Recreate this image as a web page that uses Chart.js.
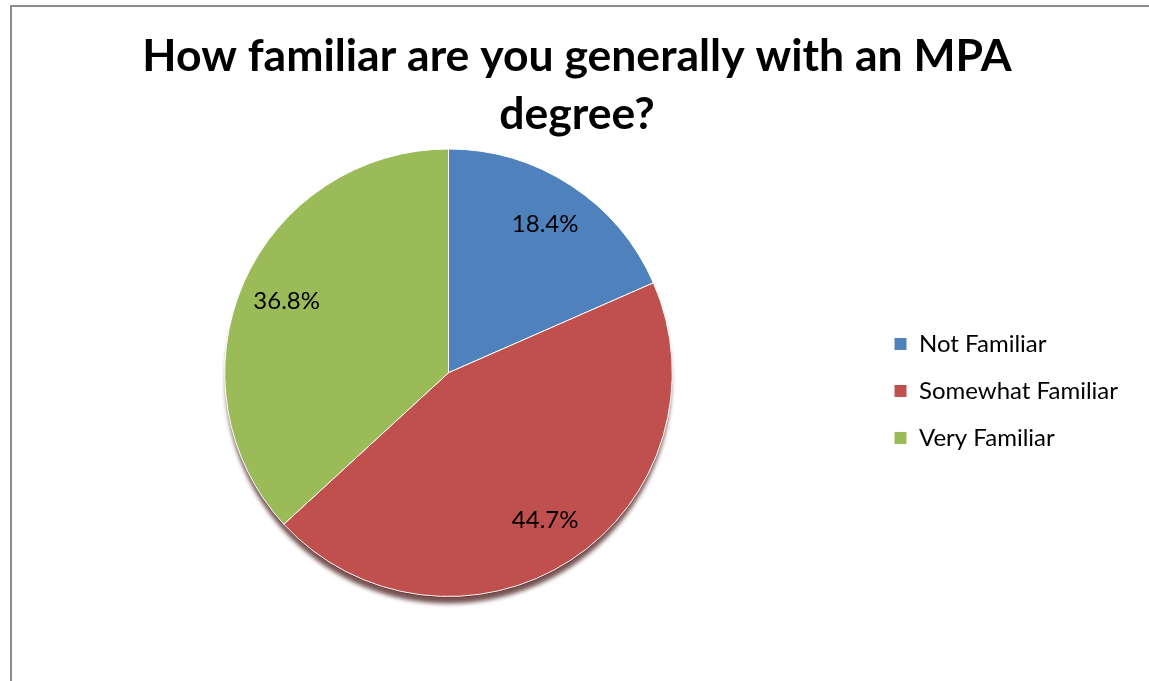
<!DOCTYPE html>
<html>
<head>
<meta charset="utf-8">
<script src="https://cdn.jsdelivr.net/npm/chart.js@4/dist/chart.umd.min.js"></script>
<style>
    html, body { margin: 0; padding: 0; background: #fff; overflow: hidden; }
    #frame { position: absolute; left: 10px; top: 5px; width: 1160px; height: 700px; border: 2px solid #8c8c8c; box-sizing: border-box; }
    #wrap { position: absolute; left: 0; top: 0; width: 1149px; height: 681px; }
</style>
</head>
<body>
<div id="frame"></div>
<div id="wrap"><canvas id="pieChart" width="1149" height="681"></canvas></div>
<script>
const categories = ['Not Familiar', 'Somewhat Familiar', 'Very Familiar'];
const percentages = [18.4, 44.7, 36.8];
const sliceColors = ['#4F81BD', '#C0504D', '#9BBB59'];
const titleLines = ['How familiar are you generally with an MPA', 'degree?'];

// soft shadow under the pie, like the Excel one
const pieShadow = {
    id: 'pieShadow',
    beforeDatasetsDraw(chart) {
        const arc = chart.getDatasetMeta(0).data[0];
        if (!arc) return;
        const ctx = chart.ctx;
        ctx.save();
        ctx.shadowColor = 'rgba(60, 10, 10, 0.7)';
        ctx.shadowBlur = 4;
        ctx.shadowOffsetY = 6;
        ctx.fillStyle = '#6e2220';
        ctx.beginPath();
        ctx.arc(arc.x, arc.y + 2, arc.outerRadius - 1, 0, Math.PI * 2);
        ctx.fill();
        ctx.restore();
    }
};

// percentage labels inside the slices
const sliceLabels = {
    id: 'sliceLabels',
    afterDatasetsDraw(chart) {
        const ctx = chart.ctx;
        const meta = chart.getDatasetMeta(0);
        ctx.save();
        ctx.font = '24px Lato';
        ctx.fillStyle = '#000';
        ctx.textAlign = 'center';
        ctx.textBaseline = 'middle';
        meta.data.forEach((arc, i) => {
            const mid = (arc.startAngle + arc.endAngle) / 2;
            const r = arc.outerRadius * 0.79;
            ctx.fillText(percentages[i].toFixed(1) + '%', arc.x + Math.cos(mid) * r, arc.y + Math.sin(mid) * r);
        });
        ctx.restore();
    }
};

const ctx = document.getElementById('pieChart').getContext('2d');
const pieChart = new Chart(ctx, {
    type: 'pie',
    data: {
        labels: categories,
        datasets: [{
            data: percentages,
            backgroundColor: sliceColors,
            borderColor: '#ffffff',
            borderWidth: 1
        }]
    },
    options: {
        responsive: false,
        animation: false,
        layout: { padding: { top: 27, left: 26, right: 21, bottom: 84 } },
        plugins: {
            title: {
                display: true,
                text: titleLines,
                color: '#000',
                font: { family: 'Lato', size: 44.5, weight: 'bold', lineHeight: 1.32 },
                padding: { top: 0, bottom: 4 }
            },
            legend: {
                position: 'right',
                align: 'center',
                fullSize: false,
                // empty title only pushes the items down a little
                title: { display: true, text: '', padding: 11 },
                labels: {
                    color: '#000',
                    font: { family: 'Lato', size: 24 },
                    boxWidth: 13,
                    boxHeight: 13,
                    padding: 23
                }
            },
            tooltip: { enabled: false }
        }
    },
    plugins: [pieShadow, sliceLabels]
});
</script>
</body>
</html>
